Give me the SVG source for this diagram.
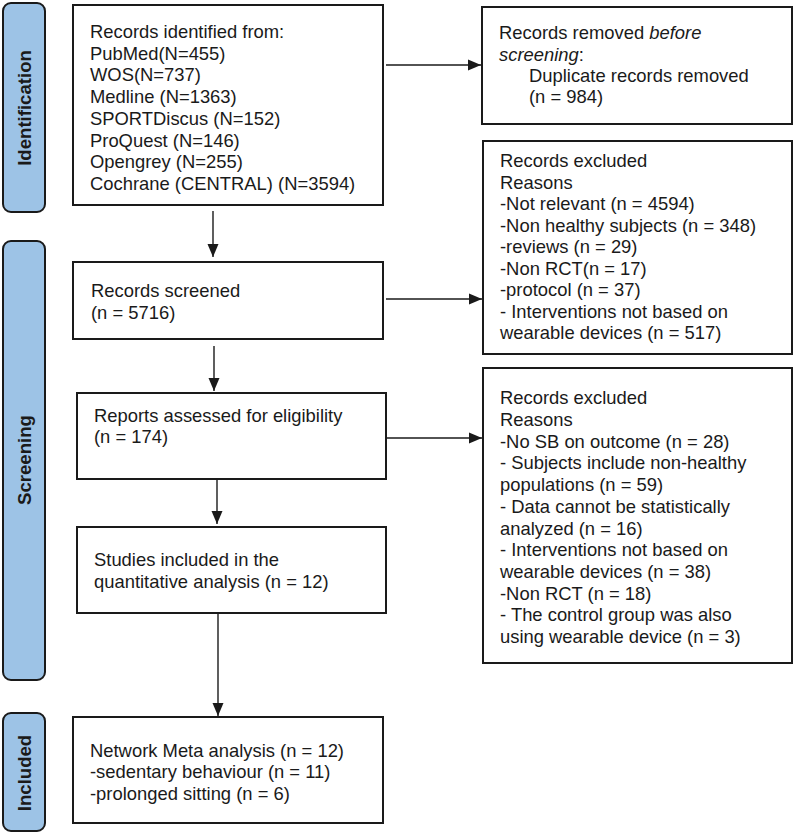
<svg xmlns="http://www.w3.org/2000/svg" width="794" height="835" viewBox="0 0 794 835">
<style>
.box{fill:#fff;stroke:#1a1a1a;stroke-width:2}
.side{fill:#9dc3e6;stroke:#1a1a1a;stroke-width:2}
.t{font-family:"Liberation Sans",Arial,sans-serif;font-size:18.4px;fill:#1a1a1a}
.st{font-family:"Liberation Sans",Arial,sans-serif;font-size:18.6px;font-weight:bold;fill:#1a1a1a;text-anchor:middle}
.c{stroke:#1a1a1a;stroke-width:1.4;fill:none;marker-end:url(#ah)}
</style>
<defs>
<marker id="ah" markerUnits="userSpaceOnUse" markerWidth="14" markerHeight="12" refX="13" refY="6" orient="auto">
<path d="M0,0.5 L13,6 L0,11.5 z" fill="#1a1a1a"/>
</marker>
</defs>
<rect width="794" height="835" fill="#fff"/>
<g id="phase-identification">
<rect class="side" x="3" y="3" width="42" height="209" rx="8"/>
<text class="st" transform="translate(31,108) rotate(-90)">Identification</text>
</g>
<g id="phase-screening">
<rect class="side" x="3" y="241" width="42" height="439" rx="8"/>
<text class="st" transform="translate(31,460) rotate(-90)">Screening</text>
</g>
<g id="phase-included">
<rect class="side" x="3" y="713" width="42" height="118" rx="8"/>
<text class="st" transform="translate(31,773) rotate(-90)">Included</text>
</g>
<g id="identified">
<rect class="box" x="73" y="5" width="310" height="200"/>
<text class="t" x="90" y="38">
<tspan x="90" y="38">Records identified from:</tspan>
<tspan x="90" y="59.7">PubMed(N=455)</tspan>
<tspan x="90" y="81.4">WOS(N=737)</tspan>
<tspan x="90" y="103.1">Medline (N=1363)</tspan>
<tspan x="90" y="124.8">SPORTDiscus (N=152)</tspan>
<tspan x="90" y="146.5">ProQuest (N=146)</tspan>
<tspan x="90" y="168.2">Opengrey (N=255)</tspan>
<tspan x="90" y="189.9">Cochrane (CENTRAL) (N=3594)</tspan>
</text>
</g>
<g id="removed">
<rect class="box" x="482" y="7" width="310" height="117"/>
<text class="t">
<tspan x="499" y="39">Records removed <tspan font-style="italic">before</tspan></tspan>
<tspan x="499" y="60.5"><tspan font-style="italic">screening</tspan>:</tspan>
<tspan x="529" y="82">Duplicate records removed</tspan>
<tspan x="529" y="103.3">(n = 984)</tspan>
</text>
</g>
<g id="excluded1">
<rect class="box" x="483" y="141" width="309" height="213"/>
<text class="t">
<tspan x="500" y="167.3">Records excluded</tspan>
<tspan x="500" y="188.8">Reasons</tspan>
<tspan x="500" y="210.3">-Not relevant (n = 4594)</tspan>
<tspan x="500" y="231.8">-Non healthy subjects (n = 348)</tspan>
<tspan x="500" y="253.3">-reviews (n = 29)</tspan>
<tspan x="500" y="274.8">-Non RCT(n = 17)</tspan>
<tspan x="500" y="296.3">-protocol (n = 37)</tspan>
<tspan x="500" y="317.8">- Interventions not based on</tspan>
<tspan x="500" y="339.3">wearable devices (n = 517)</tspan>
</text>
</g>
<g id="screened">
<rect class="box" x="73" y="262" width="310" height="77"/>
<text class="t">
<tspan x="91" y="297">Records screened</tspan>
<tspan x="91" y="318.5">(n = 5716)</tspan>
</text>
</g>
<g id="assessed">
<rect class="box" x="77" y="393" width="309" height="86"/>
<text class="t">
<tspan x="94" y="421.7">Reports assessed for eligibility</tspan>
<tspan x="94" y="443.2">(n = 174)</tspan>
</text>
</g>
<g id="excluded2">
<rect class="box" x="483" y="368" width="309" height="295"/>
<text class="t">
<tspan x="500" y="404.3">Records excluded</tspan>
<tspan x="500" y="426">Reasons</tspan>
<tspan x="500" y="447.7">-No SB on outcome (n = 28)</tspan>
<tspan x="500" y="469.4">- Subjects include non-healthy</tspan>
<tspan x="500" y="491.1">populations (n = 59)</tspan>
<tspan x="500" y="512.8">- Data cannot be statistically</tspan>
<tspan x="500" y="534.5">analyzed (n = 16)</tspan>
<tspan x="500" y="556.2">- Interventions not based on</tspan>
<tspan x="500" y="577.9">wearable devices (n = 38)</tspan>
<tspan x="500" y="599.6">-Non RCT (n = 18)</tspan>
<tspan x="500" y="621.3">- The control group was also</tspan>
<tspan x="500" y="643">using wearable device (n = 3)</tspan>
</text>
</g>
<g id="included-studies">
<rect class="box" x="77" y="527" width="309" height="86"/>
<text class="t">
<tspan x="94" y="566">Studies included in the</tspan>
<tspan x="94" y="587.5">quantitative analysis (n = 12)</tspan>
</text>
</g>
<g id="nma">
<rect class="box" x="73" y="717" width="310" height="106"/>
<text class="t">
<tspan x="90" y="756.7">Network Meta analysis (n = 12)</tspan>
<tspan x="90" y="778.2">-sedentary behaviour (n = 11)</tspan>
<tspan x="90" y="799.7">-prolonged sitting (n = 6)</tspan>
</text>
</g>
<g id="connectors">
<line class="c" x1="386" y1="65" x2="481" y2="65"/>
<line class="c" x1="386" y1="299" x2="482" y2="299"/>
<line class="c" x1="386" y1="438" x2="482" y2="438"/>
<line class="c" x1="213" y1="211" x2="213" y2="257"/>
<line class="c" x1="214" y1="346" x2="214" y2="391"/>
<line class="c" x1="217" y1="479" x2="217" y2="524"/>
<line class="c" x1="218" y1="613" x2="218" y2="716"/>
</g>
</svg>
